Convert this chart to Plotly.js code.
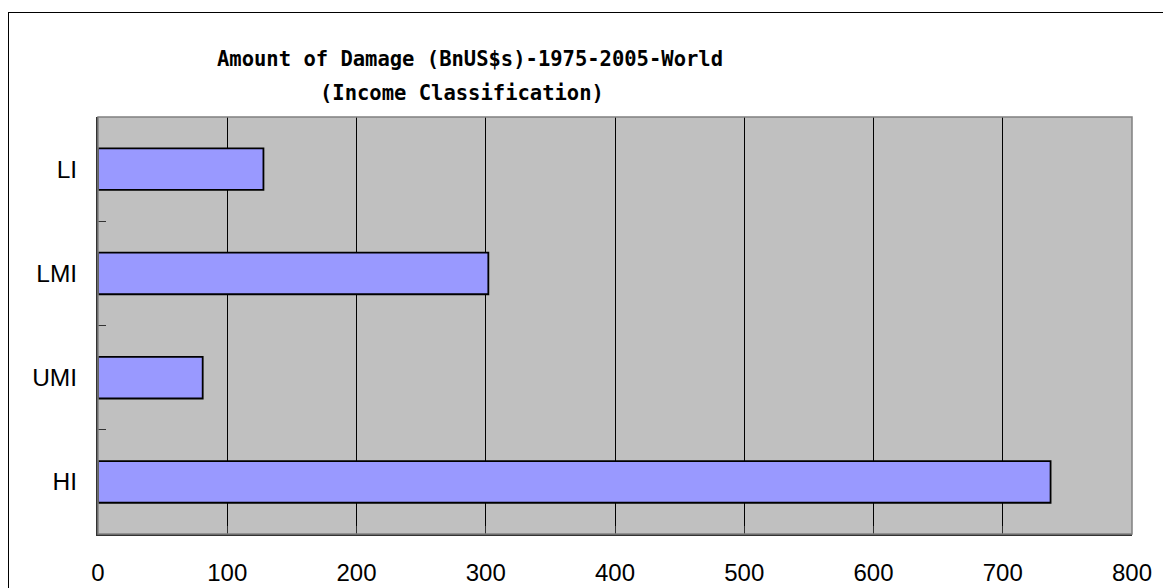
<!DOCTYPE html>
<html>
<head>
<meta charset="utf-8">
<script src="https://cdn.plot.ly/plotly-3.0.1.min.js"></script>
<style>
  html, body { margin: 0; padding: 0; background: #fff; }
  #wrap { position: relative; width: 1163px; height: 588px; overflow: hidden; }
  #chart { width: 1163px; height: 588px; }
  #frame { position: absolute; left: 8px; top: 12px; width: 1200px; height: 700px;
           border-left: 1.5px solid #000; border-top: 1.5px solid #000; pointer-events: none; }
</style>
</head>
<body>
<div id="wrap">
  <div id="chart"></div>
  <div id="frame"></div>
</div>
<script>
// Data
const categories = ["LI", "LMI", "UMI", "HI"];
const damage = [128, 302, 81, 737];
const xTicks = [0, 100, 200, 300, 400, 500, 600, 700, 800];
const titleLine1 = "Amount of Damage (BnUS$s)-1975-2005-World";
const titleLine2 = "(Income Classification)";

const trace = {
  type: "bar",
  orientation: "h",
  y: categories,
  x: damage,
  width: 0.4,
  marker: { color: "#9999FF", line: { color: "#000000", width: 1.8 } },
  hoverinfo: "x+y"
};

const titleFont = { family: "DejaVu Sans Mono, monospace", size: 20.5, color: "#000", weight: "bold" };

const layout = {
  width: 1163,
  height: 588,
  paper_bgcolor: "#ffffff",
  plot_bgcolor: "#C0C0C0",
  margin: { l: 97.5, r: 30.5, t: 117, b: 53.5, pad: 0 },
  showlegend: false,
  title: {
    text: titleLine1,
    font: titleFont,
    xref: "container", x: 470 / 1163, xanchor: "center",
    yref: "container", y: 1 - 59 / 588, yanchor: "middle"
  },
  annotations: [
    { text: titleLine2, font: titleFont, showarrow: false,
      xref: "paper", yref: "paper",
      x: (462 - 97.5) / 1035, y: (534.5 - 93) / 417.5,
      xanchor: "center", yanchor: "middle" }
  ],
  xaxis: {
    range: [0, 800],
    tickvals: xTicks,
    ticktext: xTicks.map(String),
    showgrid: true,
    gridcolor: "#000000",
    gridwidth: 1,
    zeroline: false,
    showline: true,
    linecolor: "#333333",
    linewidth: 2,
    ticks: "inside",
    ticklen: 8,
    tickcolor: "#333333",
    tickfont: { family: "Liberation Sans, Arial, sans-serif", size: 24, color: "#000" },
    ticklabelstandoff: 16,
    fixedrange: true
  },
  yaxis: {
    type: "category",
    autorange: "reversed",
    showgrid: false,
    zeroline: false,
    showline: true,
    linecolor: "#333333",
    linewidth: 2,
    ticks: "inside",
    tickson: "boundaries",
    ticklen: 8,
    tickcolor: "#333333",
    tickfont: { family: "Liberation Sans, Arial, sans-serif", size: 24.5, color: "#000" },
    ticklabelstandoff: 14,
    fixedrange: true
  },
  shapes: [
    { type: "rect", xref: "paper", yref: "paper", x0: 0, x1: 1, y0: 0, y1: 1,
      line: { color: "#808080", width: 1.5 }, fillcolor: "rgba(0,0,0,0)", layer: "above" }
  ]
};

Plotly.newPlot("chart", [trace], layout, { displayModeBar: false, staticPlot: true });
</script>
</body>
</html>
